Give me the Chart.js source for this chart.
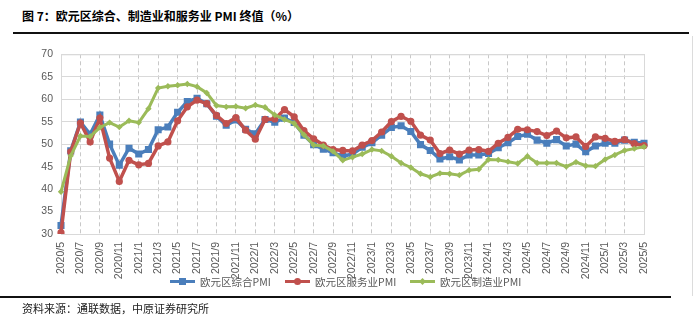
<!DOCTYPE html>
<html>
<head>
<meta charset="utf-8">
<script src="https://cdn.jsdelivr.net/npm/chart.js@4.4.1/dist/chart.umd.min.js"></script>
<style>
  body { margin: 0; background: #fff; width: 700px; height: 326px; position: relative; overflow: hidden; }
  .title { position: absolute; left: 22px; top: 7px; font: bold 12px "Noto Sans CJK SC", sans-serif; color: #000; white-space: nowrap; }
  .topline { position: absolute; left: 13px; top: 32px; width: 676px; height: 1.5px; background: #111; }
  .botline { position: absolute; left: 0; top: 296px; width: 671px; height: 2px; background: #111; }
  .rightline { position: absolute; left: 692px; top: 36px; width: 1px; height: 260px; background: #dcdcdc; }
  .source { position: absolute; left: 22px; top: 300px; font: 11px "Noto Sans CJK SC", sans-serif; color: #222; white-space: nowrap; }
  #wrap { position: absolute; left: 0; top: 40px; }
  .legend { position: absolute; top: 273px; font: 10.5px "Noto Sans CJK SC", sans-serif; color: #595959; white-space: nowrap; }
  .item { position: absolute; top: 0; height: 16px; display: flex; align-items: center; }
  .swatch { position: relative; width: 25px; height: 16px; margin-right: 5px; }
  .swatch .ln { position: absolute; left: 0; top: 6.5px; width: 25px; height: 3px; }
  .swatch .mk { position: absolute; }
</style>
</head>
<body>
<div class="title">图 7：欧元区综合、制造业和服务业 PMI 终值（%）</div>
<div class="topline"></div>
<div class="rightline"></div>
<div id="wrap"><canvas id="chart" width="700" height="240"></canvas></div>
<div class="legend" id="legend"></div>
<div class="botline"></div>
<div class="source">资料来源：通联数据，中原证券研究所</div>
<script>
const months = [
  "2020/5", "2020/6", "2020/7", "2020/8", "2020/9", "2020/10", "2020/11", "2020/12",
  "2021/1", "2021/2", "2021/3", "2021/4", "2021/5", "2021/6", "2021/7", "2021/8", "2021/9", "2021/10", "2021/11", "2021/12",
  "2022/1", "2022/2", "2022/3", "2022/4", "2022/5", "2022/6", "2022/7", "2022/8", "2022/9", "2022/10", "2022/11", "2022/12",
  "2023/1", "2023/2", "2023/3", "2023/4", "2023/5", "2023/6", "2023/7", "2023/8", "2023/9", "2023/10", "2023/11", "2023/12",
  "2024/1", "2024/2", "2024/3", "2024/4", "2024/5", "2024/6", "2024/7", "2024/8", "2024/9", "2024/10", "2024/11", "2024/12",
  "2025/1", "2025/2", "2025/3", "2025/4", "2025/5"
];

const compositePMI = [
  31.9, 48.5, 54.9, 52.2, 56.5, 50.0, 45.3, 49.1,
  47.8, 48.8, 53.2, 53.8, 57.1, 59.5, 60.2, 59.0, 56.2, 54.2, 55.4, 53.3,
  52.3, 55.5, 54.9, 55.8, 54.8, 52.0, 49.9, 48.9, 48.1, 47.3, 47.8, 49.3,
  50.3, 52.0, 53.7, 54.1, 52.8, 49.9, 48.6, 46.7, 47.2, 46.5, 47.6, 47.6,
  47.9, 49.2, 50.3, 51.7, 52.2, 50.9, 50.2, 51.0, 49.6, 50.0, 48.3, 49.6,
  50.2, 50.2, 50.9, 50.4, 50.2
];

const servicesPMI = [
  30.3, 48.3, 54.7, 50.5, 55.8, 46.9, 41.7, 46.4,
  45.4, 45.7, 49.6, 50.5, 55.2, 58.3, 59.8, 59.0, 56.4, 54.6, 55.9, 53.1,
  51.1, 55.5, 55.6, 57.7, 56.1, 53.0, 51.2, 49.8, 48.8, 48.6, 48.5, 49.8,
  50.8, 52.7, 55.0, 56.2, 55.1, 52.0, 50.9, 47.9, 48.7, 47.8, 48.7, 48.8,
  48.4, 50.2, 51.5, 53.3, 53.2, 52.8, 51.9, 52.9, 51.4, 51.6, 49.5, 51.6,
  51.3, 50.6, 51.0, 50.1, 49.7
];

const manufacturingPMI = [
  39.4, 47.4, 51.8, 51.7, 53.7, 54.8, 53.8, 55.2,
  54.8, 57.9, 62.5, 62.9, 63.1, 63.4, 62.8, 61.4, 58.6, 58.3, 58.4, 58.0,
  58.7, 58.2, 56.5, 55.5, 54.6, 52.1, 49.8, 49.6, 48.4, 46.4, 47.1, 47.8,
  48.8, 48.5, 47.3, 45.8, 44.8, 43.4, 42.7, 43.5, 43.4, 43.1, 44.2, 44.4,
  46.6, 46.5, 46.1, 45.7, 47.3, 45.8, 45.8, 45.8, 45.0, 46.0, 45.2, 45.1,
  46.6, 47.6, 48.6, 49.0, 49.4
];

const seriesNames = ["欧元区综合PMI", "欧元区服务业PMI", "欧元区制造业PMI"];
const colors = ["#4a7ebb", "#c0504d", "#9bbb59"];

// light frame around the plot area, like the Excel original
const frame = {
  id: "frame",
  beforeDatasetsDraw(chart) {
    const { ctx, chartArea: a } = chart;
    ctx.save();
    ctx.strokeStyle = "#d9d9d9";
    ctx.lineWidth = 1;
    ctx.strokeRect(a.left + 0.5, a.top + 0.5, a.right - a.left, a.bottom - a.top);
    ctx.restore();
  }
};

const tickFont = { family: "'Liberation Sans', Arial, sans-serif", size: 10.5 };

new Chart(document.getElementById("chart"), {
  type: "line",
  data: {
    labels: months,
    datasets: [
      {
        label: seriesNames[0], data: compositePMI, order: 2,
        borderColor: colors[0], backgroundColor: colors[0], borderWidth: 3.5,
        pointStyle: "rect", pointRadius: 5, pointBorderWidth: 0
      },
      {
        label: seriesNames[1], data: servicesPMI, order: 1,
        borderColor: colors[1], backgroundColor: colors[1], borderWidth: 3.5,
        pointStyle: "circle", pointRadius: 3.6, pointBorderWidth: 0
      },
      {
        label: seriesNames[2], data: manufacturingPMI, order: 0,
        borderColor: colors[2], backgroundColor: colors[2], borderWidth: 3,
        pointStyle: "rectRot", pointRadius: 3.2, pointBorderWidth: 0
      }
    ]
  },
  options: {
    responsive: false,
    animation: false,
    devicePixelRatio: 1,
    layout: { padding: { left: 10, right: 56, top: 9, bottom: 0 } },
    elements: { line: { tension: 0 } },
    plugins: { legend: { display: false }, tooltip: { enabled: false } },
    scales: {
      x: {
        offset: false,
        afterFit(scale) { scale.height = 46; },
        grid: {
          drawTicks: false,
          color: (c) => (c.index % 2 === 0 ? "#c8c8c8" : "rgba(0,0,0,0)")
        },
        border: { color: "#d9d9d9", dash: [4, 3] },
        ticks: {
          autoSkip: false,
          minRotation: 90,
          maxRotation: 90,
          padding: 8,
          color: "#595959",
          font: tickFont,
          callback: (v, i) => (i % 2 === 0 ? months[i] : "")
        }
      },
      y: {
        min: 30,
        max: 70,
        afterFit(scale) { scale.width = 51; },
        grid: { drawTicks: false, color: "#d9d9d9" },
        border: { color: "#d9d9d9" },
        ticks: { stepSize: 5, padding: 8, color: "#595959", font: tickFont }
      }
    }
  },
  plugins: [frame]
});

// legend: line with marker in the middle, as in the original
const legendPos = [170, 285, 410];
const markerCss = [
  "left:9px;top:4.5px;width:7px;height:7px;",
  "left:9px;top:4.5px;width:7px;height:7px;border-radius:50%;",
  "left:10px;top:5.5px;width:5px;height:5px;transform:rotate(45deg);"
];
const legend = document.getElementById("legend");
seriesNames.forEach((name, i) => {
  const item = document.createElement("div");
  item.className = "item";
  item.style.left = legendPos[i] + "px";
  item.innerHTML =
    '<span class="swatch"><span class="ln" style="background:' + colors[i] + '"></span>' +
    '<span class="mk" style="' + markerCss[i] + "background:" + colors[i] + '"></span></span>' +
    "<span>" + name + "</span>";
  legend.appendChild(item);
});
</script>
</body>
</html>
